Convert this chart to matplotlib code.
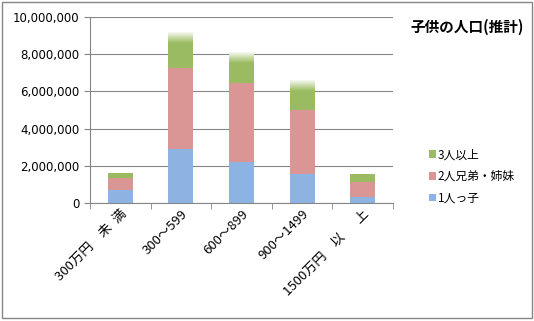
import numpy as np
import matplotlib.pyplot as plt
from matplotlib.patches import Rectangle

plt.rcParams['font.family'] = ['Noto Sans CJK JP', 'DejaVu Sans']

categories = ['300万円\u3000未\u2002満', '300～599', '600～899', '900～1499', '1500万円\u3000以\u3000\u2002上']
only_child = [700000, 2900000, 2220000, 1560000, 340000]
two_sib = [660000, 4370000, 4250000, 3440000, 810000]
three_plus = [270000, 1930000, 1660000, 1600000, 410000]
series_names = ['1人っ子', '2人兄弟・姉妹', '3人以上']
colors = ['#8DB3E2', '#D99694', '#9BBB62']

fig = plt.figure(figsize=(5.34, 3.21), dpi=100)
ax = fig.add_axes([0.1685, 0.3676, 0.5675, 0.579])

x = np.arange(len(categories))
w = 0.41
b1 = ax.bar(x, only_child, w, color=colors[0], zorder=2)
b2 = ax.bar(x, two_sib, w, bottom=only_child, color=colors[1], zorder=2)
bot3 = np.array(only_child) + np.array(two_sib)
b3 = ax.bar(x, three_plus, w, bottom=bot3, color=colors[2], zorder=2)

# fade the top of the tall green segments to white
fade = 600000
grad = np.ones((50, 1, 4))
grad[:, 0, 3] = np.linspace(1, 0, 50)
for xi, top, h in zip(x, bot3 + np.array(three_plus), three_plus):
    if h > 1000000:
        ax.imshow(grad, extent=[xi - w / 2, xi + w / 2, top - fade, top],
                  aspect='auto', zorder=3, interpolation='bilinear')

ax.set_xlim(-0.5, len(categories) - 0.5)
ax.set_ylim(0, 10000000)
ax.set_yticks(np.arange(0, 10000001, 2000000))
ax.yaxis.set_major_formatter(plt.FuncFormatter(lambda v, p: f'{int(v):,}'))
ax.grid(axis='y', color='#868686', linewidth=0.8, zorder=0)
ax.set_axisbelow(True)

ax.set_xticks(x)
ax.set_xticklabels(categories, rotation=45, ha='right', rotation_mode='anchor', fontsize=9.5)
ax.set_xticks(np.arange(-0.5, len(categories)), minor=True)
ax.tick_params(axis='x', which='major', length=0, pad=3)
ax.tick_params(axis='x', which='minor', length=4, color='#868686')
ax.tick_params(axis='y', length=4, color='#868686', labelsize=8.5)
for lab in ax.get_yticklabels():
    lab.set_family('DejaVu Sans')

for s in ['top', 'right']:
    ax.spines[s].set_visible(False)
for s in ['left', 'bottom']:
    ax.spines[s].set_color('#868686')

fig.text(0.875, 0.915, '子供の人口(推計)', ha='center', va='center', fontsize=10.5, fontweight='bold')

leg = fig.legend([b3, b2, b1], series_names[::-1], loc='center left',
                 bbox_to_anchor=(0.783, 0.45), frameon=False, fontsize=8.5,
                 handlelength=0.6, handleheight=0.6, handletextpad=0.15, labelspacing=0.75)

fig.patches.append(Rectangle((0.004, 0.008), 0.992, 0.987, transform=fig.transFigure,
                             fill=False, edgecolor='#868686', linewidth=1))

fig.savefig('out.png', dpi=100)
